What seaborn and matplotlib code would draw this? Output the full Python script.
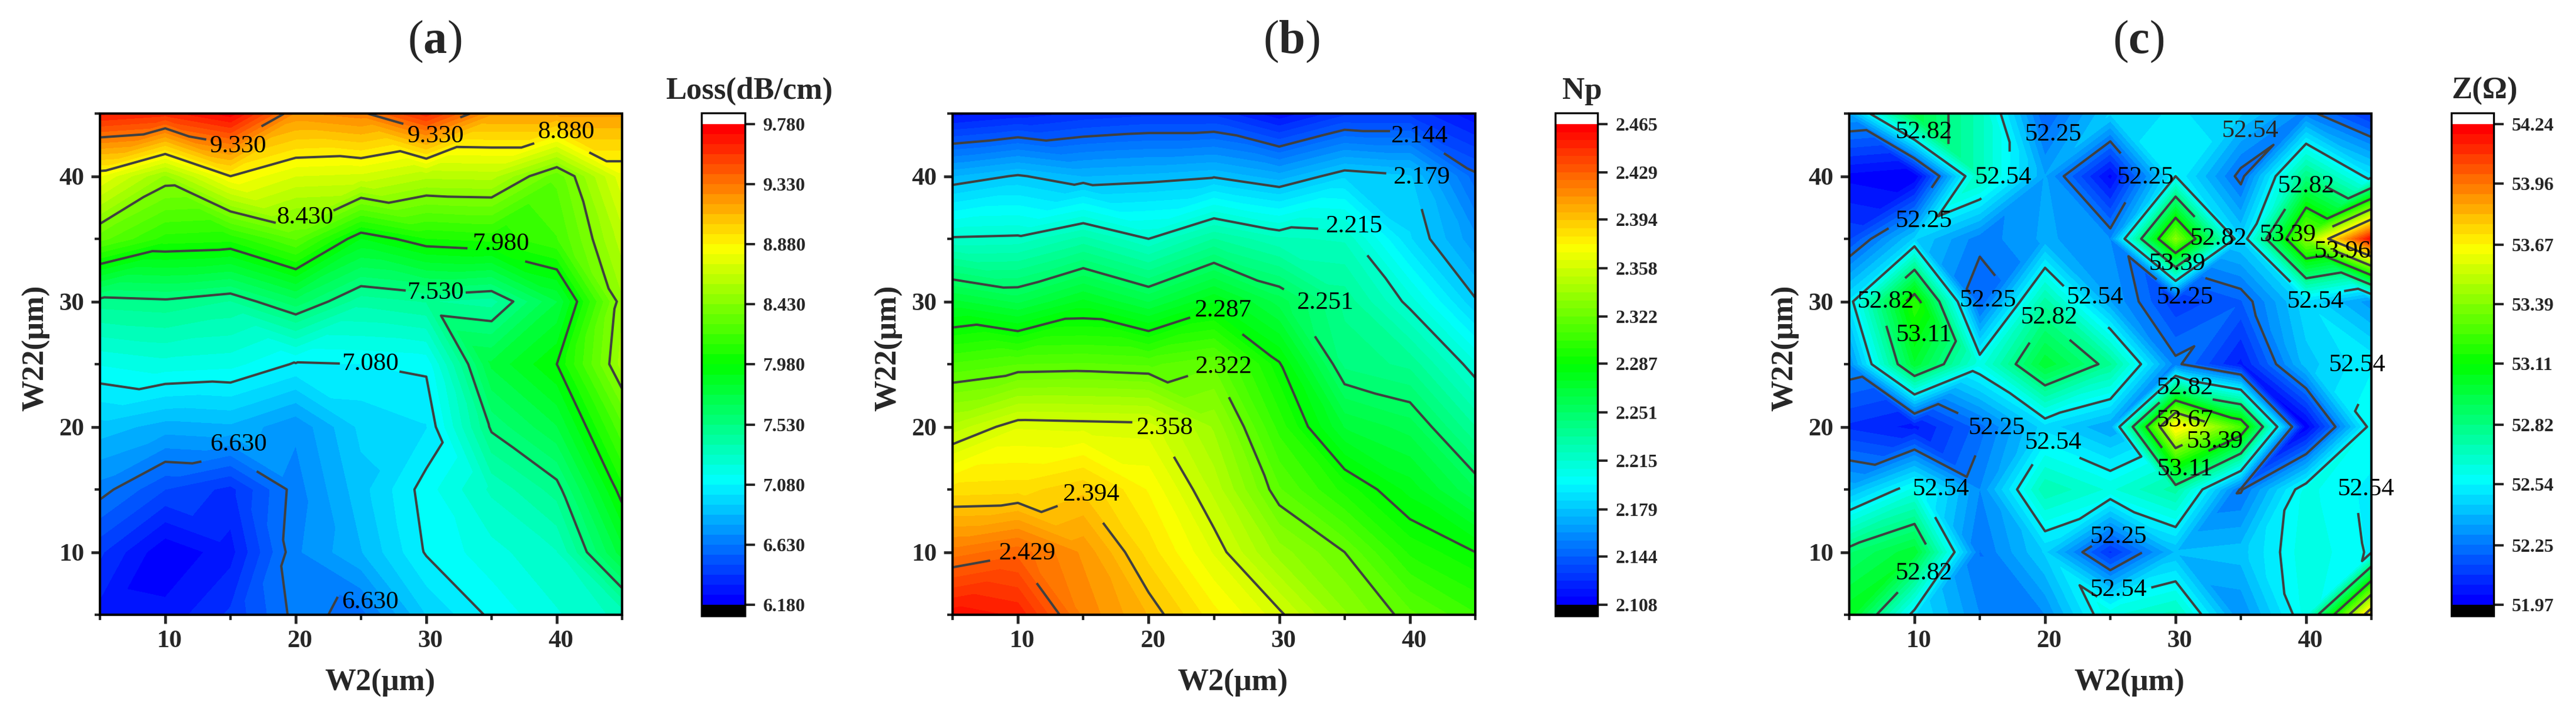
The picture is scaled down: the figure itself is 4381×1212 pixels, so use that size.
import matplotlib
matplotlib.use("Agg")
import matplotlib.pyplot as plt
from matplotlib.colors import BoundaryNorm, ListedColormap
from matplotlib.ticker import MultipleLocator
from matplotlib.transforms import ScaledTranslation
from matplotlib.tri import Triangulation
import numpy as np
import seaborn as sns

sns.set_style("white")
serif = ["Liberation Serif", "DejaVu Serif"]
plt.rcParams["font.family"] = serif
plt.rcParams["font.weight"] = "bold"
plt.rcParams["axes.labelweight"] = "bold"
plt.rcParams["mathtext.fontset"] = "custom"
plt.rcParams["mathtext.rm"] = "Liberation Serif"
plt.rcParams["mathtext.bf"] = "Liberation Serif:bold"

W = 4381
H = 1212

# grid of the sweep
w2 = [5, 10, 15, 20, 25, 30, 35, 40, 45]
w22 = [5, 10, 15, 20, 25, 30, 35, 40, 45]

# values, one row per W22 from 5 up to 45
loss = [
    [6.30, 6.28, 6.42, 6.66, 6.60, 6.93, 7.10, 7.22, 7.33],
    [6.42, 6.19, 6.30, 6.69, 6.85, 7.09, 7.20, 7.30, 7.80],
    [6.67, 6.48, 6.38, 6.67, 6.90, 7.12, 7.32, 7.49, 8.03],
    [6.90, 6.82, 6.84, 6.72, 6.95, 7.00, 7.55, 7.75, 8.26],
    [7.16, 7.20, 7.18, 7.07, 7.08, 7.10, 7.77, 7.98, 8.54],
    [7.49, 7.51, 7.45, 7.65, 7.41, 7.46, 7.42, 7.75, 8.49],
    [8.31, 8.10, 8.08, 8.29, 7.90, 8.05, 8.08, 8.20, 8.62],
    [8.81, 8.49, 8.88, 8.73, 8.71, 8.60, 8.61, 8.30, 8.78],
    [9.65, 9.59, 9.75, 9.24, 9.30, 9.60, 9.20, 9.20, 9.20],
]
np_vals = [
    [2.457, 2.452, 2.416, 2.399, 2.378, 2.360, 2.335, 2.318, 2.305],
    [2.420, 2.427, 2.410, 2.385, 2.363, 2.337, 2.322, 2.297, 2.287],
    [2.384, 2.385, 2.392, 2.375, 2.350, 2.317, 2.296, 2.278, 2.257],
    [2.348, 2.363, 2.362, 2.361, 2.339, 2.302, 2.268, 2.260, 2.233],
    [2.311, 2.316, 2.317, 2.315, 2.321, 2.288, 2.243, 2.237, 2.210],
    [2.270, 2.261, 2.276, 2.262, 2.280, 2.260, 2.237, 2.212, 2.180],
    [2.216, 2.217, 2.229, 2.215, 2.233, 2.222, 2.220, 2.186, 2.163],
    [2.173, 2.180, 2.173, 2.175, 2.178, 2.170, 2.184, 2.180, 2.146],
    [2.117, 2.122, 2.127, 2.130, 2.130, 2.115, 2.130, 2.130, 2.115],
]
z_vals = [
    [53.05, 52.50, 52.30, 52.30, 52.62, 52.70, 52.30, 52.60, 53.80],
    [52.86, 53.00, 52.25, 52.45, 52.10, 52.40, 52.42, 52.62, 52.53],
    [52.38, 52.60, 52.30, 52.72, 52.62, 52.75, 52.24, 52.60, 52.52],
    [52.10, 52.05, 52.23, 52.47, 52.35, 53.72, 53.25, 51.98, 52.58],
    [52.30, 53.00, 52.60, 53.00, 52.78, 52.27, 52.05, 52.42, 52.53],
    [52.50, 53.20, 52.20, 52.75, 52.35, 52.12, 52.20, 52.48, 52.32],
    [52.15, 52.45, 52.27, 52.36, 52.30, 53.40, 52.45, 53.40, 54.20],
    [52.00, 51.97, 52.70, 52.35, 52.00, 52.54, 52.22, 52.82, 52.50],
    [52.35, 52.95, 52.70, 52.20, 52.45, 52.50, 52.45, 52.28, 52.10],
]

loss_ticks = [6.18, 6.63, 7.08, 7.53, 7.98, 8.43, 8.88, 9.33, 9.78]
np_ticks = [2.108, 2.144, 2.179, 2.215, 2.251, 2.287, 2.322, 2.358, 2.394, 2.429, 2.465]
z_ticks = [51.97, 52.25, 52.54, 52.82, 53.11, 53.39, 53.67, 53.96, 54.24]

# contour labels: level, then where the text sits
loss_labels = [
    (9.33, 15.6, 42.4), (9.33, 30.7, 43.2), (8.88, 40.7, 43.5), (8.43, 20.7, 36.7),
    (7.98, 35.7, 34.6), (7.53, 30.7, 30.7), (7.08, 25.7, 25.0), (6.63, 15.6, 18.6),
    (6.63, 25.7, 6.0),
]
np_labels = [
    (2.144, 40.7, 43.2), (2.179, 40.9, 39.9), (2.215, 35.7, 36.0), (2.251, 33.5, 29.9),
    (2.287, 25.7, 29.3), (2.322, 25.7, 24.8), (2.358, 21.2, 19.9), (2.394, 15.6, 14.6),
    (2.429, 10.7, 9.9),
]
z_labels = [
    (52.82, 10.7, 43.5), (52.25, 20.6, 43.3), (52.54, 16.8, 39.9), (52.25, 27.7, 39.9),
    (52.25, 10.7, 36.4), (52.82, 40.0, 39.2), (52.82, 33.3, 35.0), (53.39, 38.6, 35.3),
    (53.96, 42.8, 34.0), (53.39, 30.1, 33.0), (52.82, 7.8, 30.0), (53.11, 10.7, 27.3),
    (52.25, 15.6, 30.1), (52.54, 23.8, 30.3), (52.82, 20.3, 28.7), (52.25, 30.7, 30.3),
    (52.54, 40.7, 30.0), (52.54, 43.9, 24.9), (52.82, 30.7, 23.1), (53.67, 30.7, 20.5),
    (53.39, 33.0, 18.8), (53.11, 30.7, 16.6), (52.25, 16.3, 19.9), (52.54, 20.6, 18.7),
    (52.54, 12.0, 15.0), (52.54, 44.6, 15.0), (52.25, 25.6, 11.2), (52.82, 10.7, 8.3),
    (52.54, 25.6, 7.0),
]
# this one has no contour close to it in the original
z_free_labels = [(52.54, 35.7, 43.6)]

rainbow = ["#0000ff", "#00ffff", "#00ff00", "#ffff00", "#ff0000"]
line_color = "#404040"


def px_box(left, top, right, bottom):
    return [left / W, 1 - bottom / H, (right - left) / W, (bottom - top) / H]


def grid_triangles(z):
    # each cell is cut along the diagonal whose two corners are closest in value
    xx, yy = np.meshgrid(w2, w22)
    n = len(w2)
    tris = []
    for j in range(len(w22) - 1):
        for i in range(n - 1):
            a = j * n + i
            b = a + 1
            c = a + n
            d = c + 1
            if abs(z[a] - z[d]) <= abs(z[b] - z[c]):
                tris += [[a, b, d], [a, d, c]]
            else:
                tris += [[a, b, c], [b, d, c]]
    return Triangulation(xx.ravel(), yy.ravel(), tris)


def nearest_on_level(cs, level_index, x, y):
    # closest point to (x, y) on one contour level, so the label lands on that level
    best = (1e9, x, y)
    for poly in cs.get_paths()[level_index].to_polygons(closed_only=False):
        for p, q in zip(poly[:-1], poly[1:]):
            seg = q - p
            t = np.clip(np.dot((x, y) - p, seg) / max(np.dot(seg, seg), 1e-12), 0, 1)
            foot = p + t * seg
            d = np.hypot(*(foot - (x, y)))
            if d < best[0]:
                best = (d, foot[0], foot[1])
    return best[1], best[2]


def draw_panel(fig, box, cbox, values, ticks, n_bands, fmt, letter, letter_x,
               bar_title, bar_title_x, label_spots, free_labels=()):
    ax = fig.add_axes(px_box(*box))
    cax = fig.add_axes(px_box(*cbox))

    cmap = ListedColormap(sns.blend_palette(rainbow, n_bands))
    cmap.set_under("black")
    cmap.set_over("white")
    bands = np.linspace(ticks[0], ticks[-1], n_bands + 1)
    norm = BoundaryNorm(bands, n_bands)

    z = np.array(values).ravel()
    tri = grid_triangles(z)
    contour_levels = ticks[1:-1]
    cf = ax.tricontourf(tri, z, levels=bands, cmap=cmap, norm=norm, extend="both")
    cs = ax.tricontour(tri, z, levels=contour_levels, colors=line_color, linewidths=2.9)

    ax.set_xlim(5, 45)
    ax.set_ylim(5, 45)

    snaps = [nearest_on_level(cs, contour_levels.index(lev), x, y) for lev, x, y in label_spots]
    placed = ax.clabel(cs, fmt=fmt, manual=snaps, fontsize=31, inline=True, inline_spacing=3)
    for t, (lev, x, y) in zip(placed, label_spots):
        t.set_position((x, y))
        t.set_rotation(0)
        t.set_fontfamily(serif)
        t.set_fontweight("normal")
        t.set_color("black")
        t.set_clip_on(False)
    for lev, x, y in free_labels:
        ax.text(x, y, fmt % lev, ha="center", va="center", fontsize=31, fontweight="normal")

    ax.xaxis.set_major_locator(MultipleLocator(10))
    ax.xaxis.set_minor_locator(MultipleLocator(5))
    ax.yaxis.set_major_locator(MultipleLocator(10))
    ax.yaxis.set_minor_locator(MultipleLocator(5))
    ax.tick_params(which="major", direction="out", length=11, width=3.4, labelsize=31, pad=8,
                   bottom=True, left=True)
    ax.tick_params(which="minor", direction="out", length=6.5, width=3.0, bottom=True, left=True)
    for spine in ax.spines.values():
        spine.set_linewidth(2.9)
        spine.set_color("black")
    shift = ScaledTranslation(7 / 100, 0, fig.dpi_scale_trans)
    for lab in ax.get_xticklabels():
        lab.set_transform(lab.get_transform() + shift)

    ax.set_xlabel("W2(μm)", fontsize=38)
    ax.xaxis.set_label_coords(0.536, -0.108)
    ax.set_ylabel("W22(μm)", fontsize=38)
    ax.yaxis.set_label_coords(-0.095, 0.532)

    cb = fig.colorbar(cf, cax=cax, extend="both", extendfrac=19 / 817, extendrect=True,
                      drawedges=False, spacing="proportional")
    cb.set_ticks(ticks, labels=[fmt % v for v in ticks])
    cb.minorticks_off()
    cax.tick_params(direction="out", length=12, width=2.9, labelsize=23, pad=10, right=True)
    cb.outline.set_linewidth(2.4)
    cb.outline.set_edgecolor("black")

    fig.text(bar_title_x / W, 1 - 168 / H, bar_title, ha="center", va="baseline", fontsize=38)
    fig.text(letter_x / W, 1 - 90 / H, "($\\mathbf{%s}$)" % letter, ha="center", va="baseline",
             fontsize=58, fontweight="normal")


fig = plt.figure(figsize=(W / 100, H / 100), dpi=100)

draw_panel(fig, (170, 193, 1058, 1045), (1193, 192, 1267, 1047), loss, loss_ticks, 48,
           "%.3f", "a", 739, "Loss(dB/cm)", 1274, loss_labels)

draw_panel(fig, (1620, 193, 2509, 1045), (2645, 192, 2717, 1047), np_vals, np_ticks, 60,
           "%.3f", "b", 2196, "Np", 2691, np_labels)

draw_panel(fig, (3145, 193, 4033, 1045), (4169, 192, 4241, 1047), z_vals, z_ticks, 48,
           "%.2f", "c", 3637, "Z(Ω)", 4226, z_labels, z_free_labels)

fig.savefig("out.png", dpi=100)
